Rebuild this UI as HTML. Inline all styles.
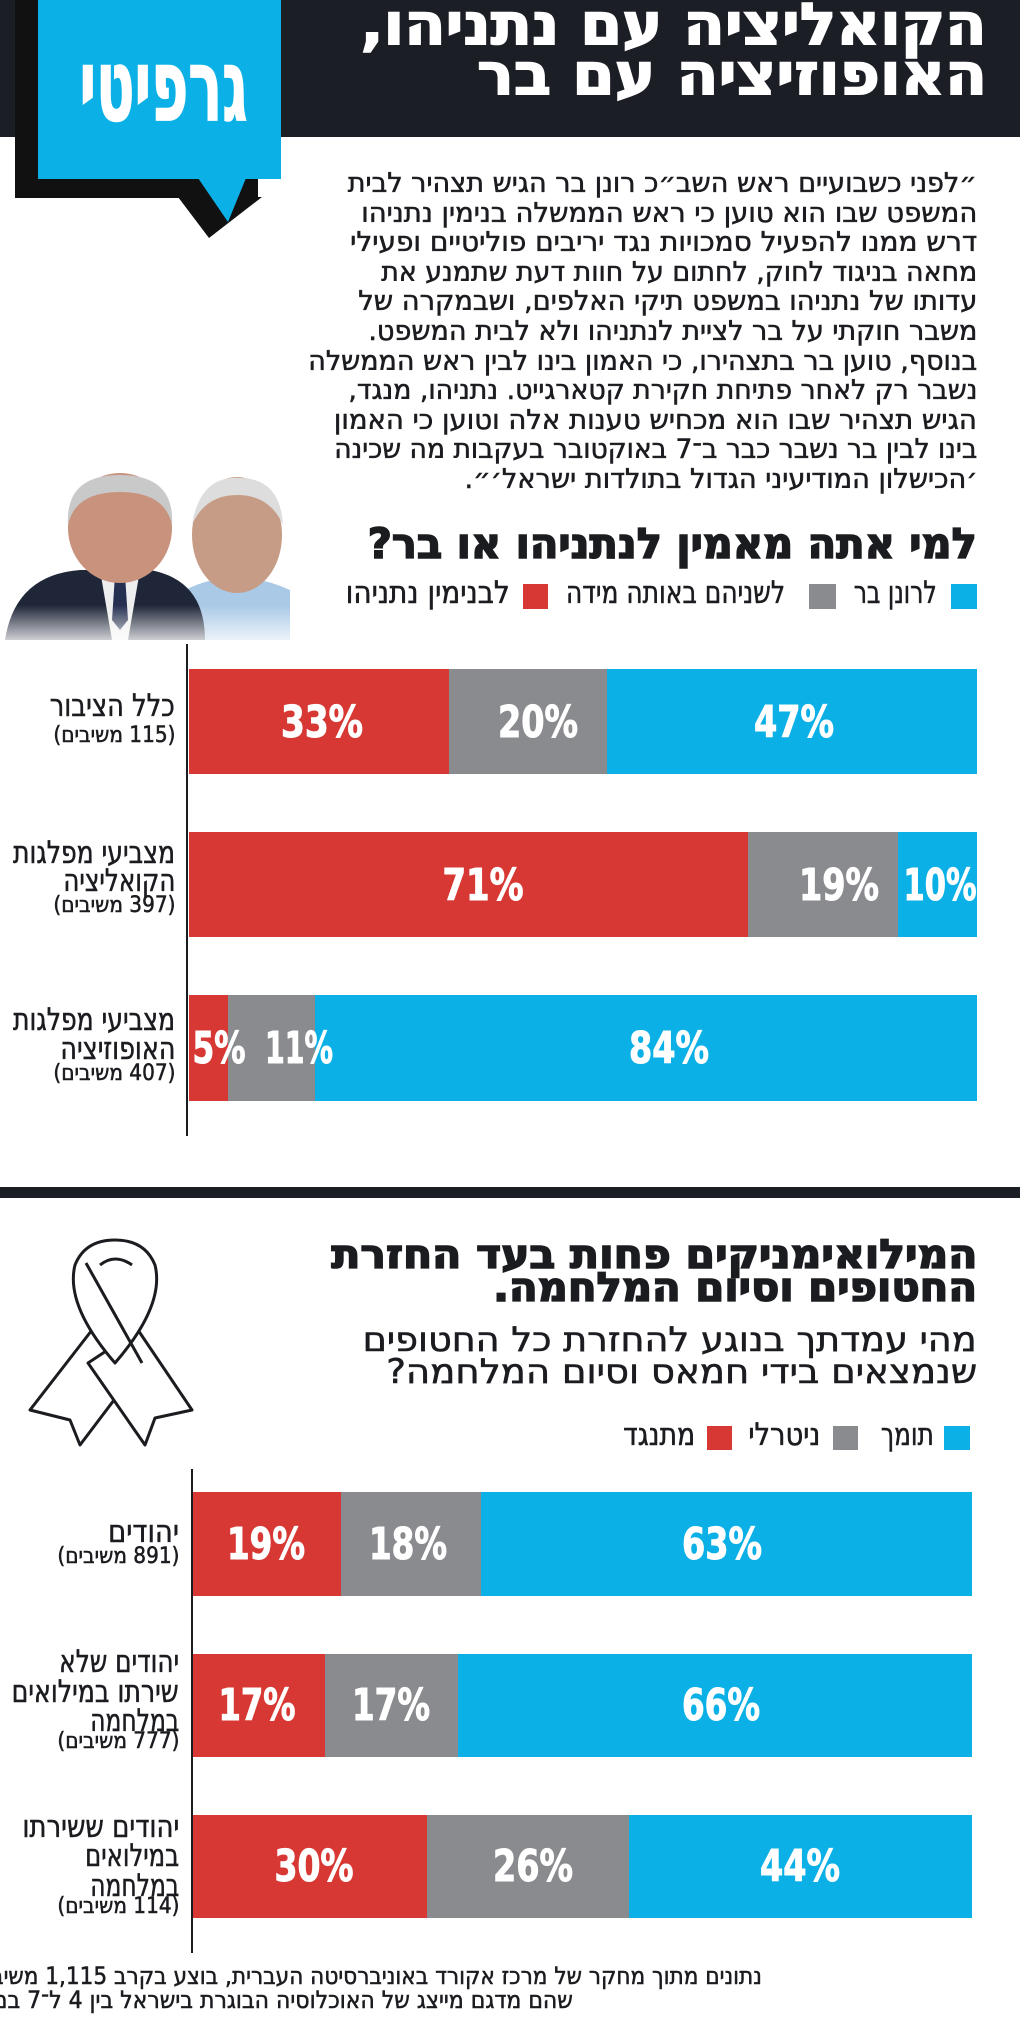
<!DOCTYPE html>
<html><head><meta charset="utf-8">
<style>
html,body{margin:0;padding:0;}
body{width:1024px;height:2029px;position:relative;background:#fff;overflow:hidden;font-family:"DejaVu Sans Condensed","DejaVu Sans","Liberation Sans",sans-serif;color:#1b1c20;}
.t{position:absolute;white-space:nowrap;line-height:1;direction:rtl;transform-origin:right center;-webkit-text-stroke:0.5px currentColor;}
.b{font-weight:bold;-webkit-text-stroke:1.5px currentColor;}
.p{position:absolute;white-space:nowrap;line-height:1;font-weight:bold;color:#fff;font-size:44px;transform-origin:center center;-webkit-text-stroke:1px #fff;}
.r{position:absolute;}
</style></head><body>
<!-- header -->
<div class="r" style="left:0;top:0;width:1020px;height:137px;background:#1b1e24"></div>
<svg class="r" style="left:0;top:0" width="300" height="250">
<rect x="15" y="0" width="243" height="198" fill="#111"/>
<polygon points="178,197 262,197 209,238" fill="#111"/>
<rect x="38" y="0" width="243" height="179" fill="#0bb0e6"/>
<polygon points="198,178 246,178 228,222" fill="#0bb0e6"/>
</svg>
<div class="t b" style="right:776px;top:36px;font-size:100px;color:#fff;--w:168" >גרפיטי</div>
<div class="t b" style="right:37px;top:-5px;font-size:58px;color:#fff;--w:626">הקואליציה עם נתניהו,</div>
<div class="t b" style="right:37px;top:45px;font-size:58px;color:#fff;--w:510">האופוזיציה עם בר</div>

<!-- paragraph -->
<div class="t" style="right:47px;top:170px;font-size:27px;--w:629">״לפני כשבועיים ראש השב״כ רונן בר הגיש תצהיר לבית</div>
<div class="t" style="right:47px;top:200px;font-size:27px;--w:616">המשפט שבו הוא טוען כי ראש הממשלה בנימין נתניהו</div>
<div class="t" style="right:47px;top:229px;font-size:27px;--w:627">דרש ממנו להפעיל סמכויות נגד יריבים פוליטיים ופעילי</div>
<div class="t" style="right:47px;top:259px;font-size:27px;--w:596">מחאה בניגוד לחוק, לחתום על חוות דעת שתמנע את</div>
<div class="t" style="right:47px;top:288px;font-size:27px;--w:619">עדותו של נתניהו במשפט תיקי האלפים, ושבמקרה של</div>
<div class="t" style="right:47px;top:318px;font-size:27px;--w:609">משבר חוקתי על בר לציית לנתניהו ולא לבית המשפט.</div>
<div class="t" style="right:47px;top:348px;font-size:27px;--w:669">בנוסף, טוען בר בתצהירו, כי האמון בינו לבין ראש הממשלה</div>
<div class="t" style="right:47px;top:377px;font-size:27px;--w:629">נשבר רק לאחר פתיחת חקירת קטארגייט. נתניהו, מנגד,</div>
<div class="t" style="right:47px;top:407px;font-size:27px;--w:643">הגיש תצהיר שבו הוא מכחיש טענות אלה וטוען כי האמון</div>
<div class="t" style="right:47px;top:436px;font-size:27px;--w:643">בינו לבין בר נשבר כבר ב־7 באוקטובר בעקבות מה שכינה</div>
<div class="t" style="right:47px;top:466px;font-size:27px;--w:513">׳הכישלון המודיעיני הגדול בתולדות ישראל׳״.</div>

<!-- photos -->
<svg class="r" style="left:0;top:470px" width="300" height="180">
<defs><linearGradient id="fd" x1="0" y1="0" x2="0" y2="1"><stop offset="0.75" stop-color="#fff" stop-opacity="0"/><stop offset="1" stop-color="#fff" stop-opacity="1"/></linearGradient></defs>
<path d="M185 120 Q235 95 290 120 L290 170 L180 170Z" fill="#a9c9e6"/>
<ellipse cx="237" cy="65" rx="45" ry="58" fill="#c79c86"/>
<path d="M192 55 Q200 5 240 8 Q280 8 283 55 Q270 25 237 25 Q205 25 192 55Z" fill="#ddd"/>
<path d="M5 170 Q15 105 80 100 L150 100 Q205 110 205 170Z" fill="#1e2638"/>
<polygon points="100,100 140,100 128,170 112,170" fill="#eee"/>
<polygon points="115,105 125,105 128,150 120,160 112,150" fill="#253050"/>
<ellipse cx="120" cy="58" rx="52" ry="55" fill="#c8927c"/>
<path d="M68 55 Q65 5 120 5 Q175 5 172 55 Q165 22 120 22 Q75 22 68 55Z" fill="#c9c9c9"/>
<rect x="0" y="0" width="300" height="180" fill="url(#fd)"/>
</svg>

<div class="t b" style="right:47px;top:523px;font-size:42px;--w:609">למי אתה מאמין לנתניהו או בר?</div>
<div class="r" style="left:951px;top:584px;width:26px;height:25px;background:#0bb0e6"></div>
<div class="r" style="left:809px;top:584px;width:27px;height:25px;background:#8a8b8e"></div>
<div class="r" style="left:523px;top:584px;width:25px;height:25px;background:#d83833"></div>
<div class="t" style="right:87px;top:578px;font-size:31px;--w:83">לרונן בר</div>
<div class="t" style="right:239px;top:578px;font-size:31px;--w:219">לשניהם באותה מידה</div>
<div class="t" style="right:514px;top:578px;font-size:31px;--w:164">לבנימין נתניהו</div>

<!-- chart 1 -->
<div class="r" style="left:186px;top:644px;width:2px;height:492px;background:#1b1c20"></div>
<div class="r" style="left:189px;top:669px;width:260px;height:105px;background:#d83833"></div>
<div class="r" style="left:449px;top:669px;width:158px;height:105px;background:#8a8b8e"></div>
<div class="r" style="left:607px;top:669px;width:370px;height:105px;background:#0bb0e6"></div>
<div class="r" style="left:189px;top:832px;width:559px;height:105px;background:#d83833"></div>
<div class="r" style="left:748px;top:832px;width:150px;height:105px;background:#8a8b8e"></div>
<div class="r" style="left:898px;top:832px;width:79px;height:105px;background:#0bb0e6"></div>
<div class="r" style="left:189px;top:995px;width:39px;height:106px;background:#d83833"></div>
<div class="r" style="left:228px;top:995px;width:87px;height:106px;background:#8a8b8e"></div>
<div class="r" style="left:315px;top:995px;width:662px;height:106px;background:#0bb0e6"></div>

<div class="p" style="left:322px;top:701px;--w:82">33%</div>
<div class="p" style="left:538px;top:701px;--w:80">20%</div>
<div class="p" style="left:794px;top:701px;--w:80">47%</div>
<div class="p" style="left:483px;top:864px;--w:81">71%</div>
<div class="p" style="left:839px;top:864px;--w:80">19%</div>
<div class="p" style="left:940px;top:864px;--w:73">10%</div>
<div class="p" style="left:219px;top:1027px;--w:53">5%</div>
<div class="p" style="left:299px;top:1027px;--w:68">11%</div>
<div class="p" style="left:669px;top:1027px;--w:80">84%</div>

<div class="t" style="right:849px;top:691px;font-size:31px;--w:125">כלל הציבור</div>
<div class="t" style="right:849px;top:725px;font-size:22px;--w:122">(115 משיבים)</div>
<div class="t" style="right:849px;top:838px;font-size:31px;--w:162">מצביעי מפלגות</div>
<div class="t" style="right:849px;top:866px;font-size:31px;--w:112">הקואליציה</div>
<div class="t" style="right:849px;top:895px;font-size:22px;--w:122">(397 משיבים)</div>
<div class="t" style="right:849px;top:1005px;font-size:31px;--w:162">מצביעי מפלגות</div>
<div class="t" style="right:849px;top:1034px;font-size:31px;--w:115">האופוזיציה</div>
<div class="t" style="right:849px;top:1063px;font-size:22px;--w:122">(407 משיבים)</div>

<div class="r" style="left:0;top:1187px;width:1020px;height:11px;background:#1b1e24"></div>

<!-- section 2 -->
<svg class="r" style="left:20px;top:1235px" width="180" height="215">
<g fill="#fff" stroke="#1b1c20" stroke-width="3" stroke-linejoin="round">
<path d="M72 95 L10 175 L50 185 L60 210 L122 128Z"/>
<path d="M118 95 L172 175 L135 183 L125 210 L68 128Z"/>
<path d="M95 128 Q45 70 55 30 Q65 5 95 5 Q125 5 135 30 Q145 70 95 128Z"/>
<path d="M80 30 Q95 18 112 30" fill="none"/>
<path d="M66 28 L122 128" fill="none"/>
</g>
</svg>
<div class="t b" style="right:47px;top:1235px;font-size:40px;--w:646">המילואימניקים פחות בעד החזרת</div>
<div class="t b" style="right:47px;top:1268px;font-size:40px;--w:484">החטופים וסיום המלחמה.</div>
<div class="t" style="right:47px;top:1323px;font-size:34px;--w:614">מהי עמדתך בנוגע להחזרת כל החטופים</div>
<div class="t" style="right:47px;top:1355px;font-size:34px;--w:591">שנמצאים בידי חמאס וסיום המלחמה?</div>

<div class="r" style="left:944px;top:1426px;width:26px;height:24px;background:#0bb0e6"></div>
<div class="r" style="left:833px;top:1426px;width:25px;height:24px;background:#8a8b8e"></div>
<div class="r" style="left:707px;top:1426px;width:25px;height:24px;background:#d83833"></div>
<div class="t" style="right:90px;top:1420px;font-size:31px;--w:53">תומך</div>
<div class="t" style="right:204px;top:1420px;font-size:31px;--w:72">ניטרלי</div>
<div class="t" style="right:329px;top:1420px;font-size:31px;--w:72">מתנגד</div>

<div class="r" style="left:191px;top:1469px;width:2px;height:484px;background:#1b1c20"></div>
<div class="r" style="left:193px;top:1492px;width:148px;height:104px;background:#d83833"></div>
<div class="r" style="left:341px;top:1492px;width:140px;height:104px;background:#8a8b8e"></div>
<div class="r" style="left:481px;top:1492px;width:491px;height:104px;background:#0bb0e6"></div>
<div class="r" style="left:193px;top:1654px;width:132px;height:103px;background:#d83833"></div>
<div class="r" style="left:325px;top:1654px;width:133px;height:103px;background:#8a8b8e"></div>
<div class="r" style="left:458px;top:1654px;width:514px;height:103px;background:#0bb0e6"></div>
<div class="r" style="left:193px;top:1815px;width:234px;height:103px;background:#d83833"></div>
<div class="r" style="left:427px;top:1815px;width:202px;height:103px;background:#8a8b8e"></div>
<div class="r" style="left:629px;top:1815px;width:343px;height:103px;background:#0bb0e6"></div>

<div class="p" style="left:266px;top:1523px;--w:78">19%</div>
<div class="p" style="left:408px;top:1523px;--w:78">18%</div>
<div class="p" style="left:722px;top:1523px;--w:80">63%</div>
<div class="p" style="left:257px;top:1684px;--w:77">17%</div>
<div class="p" style="left:391px;top:1684px;--w:78">17%</div>
<div class="p" style="left:721px;top:1684px;--w:78">66%</div>
<div class="p" style="left:314px;top:1845px;--w:79">30%</div>
<div class="p" style="left:533px;top:1845px;--w:80">26%</div>
<div class="p" style="left:800px;top:1845px;--w:80">44%</div>

<div class="t" style="right:845px;top:1517px;font-size:31px;--w:71">יהודים</div>
<div class="t" style="right:845px;top:1546px;font-size:22px;--w:122">(891 משיבים)</div>
<div class="t" style="right:845px;top:1647px;font-size:31px;--w:120">יהודים שלא</div>
<div class="t" style="right:845px;top:1677px;font-size:31px;--w:167">שירתו במילואים</div>
<div class="t" style="right:845px;top:1706px;font-size:31px;--w:89">במלחמה</div>
<div class="t" style="right:845px;top:1731px;font-size:22px;--w:122">(777 משיבים)</div>
<div class="t" style="right:845px;top:1812px;font-size:31px;--w:157">יהודים ששירתו</div>
<div class="t" style="right:845px;top:1841px;font-size:31px;--w:94">במילואים</div>
<div class="t" style="right:845px;top:1871px;font-size:31px;--w:89">במלחמה</div>
<div class="t" style="right:845px;top:1896px;font-size:22px;--w:122">(114 משיבים)</div>

<div class="t" style="right:262px;top:1964px;font-size:24px;--w:790">נתונים מתוך מחקר של מרכז אקורד באוניברסיטה העברית, בוצע בקרב 1,115 משיבים</div>
<div class="t" style="right:451px;top:1988px;font-size:24px;--w:600">שהם מדגם מייצג של האוכלוסיה הבוגרת בישראל בין 4 ל־7 במאי</div>

<script>
document.querySelectorAll('.t,.p').forEach(function(el){
  var w=parseFloat(el.style.getPropertyValue('--w'));
  if(!w)return;
  var nat=el.getBoundingClientRect().width;
  if(!nat)return;
  var s=w/nat;
  if(el.classList.contains('p')) el.style.transform='translateX(-50%) scaleX('+s+')';
  else el.style.transform='scaleX('+s+')';
});
</script>
</body></html>
